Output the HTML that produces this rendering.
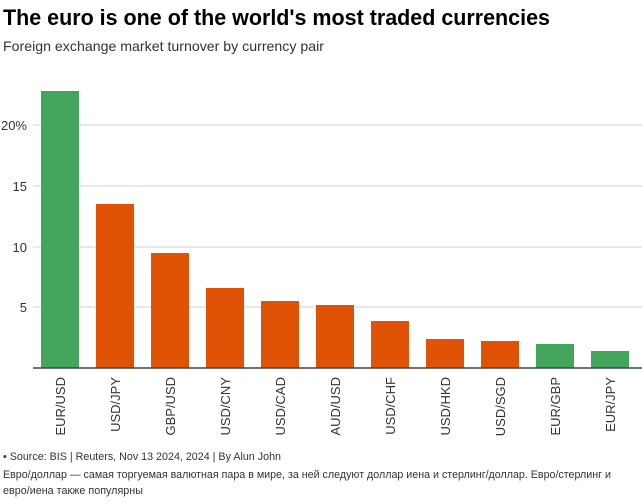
<!DOCTYPE html>
<html><head><meta charset="utf-8"><style>
html,body{margin:0;padding:0;background:#fff;width:642px;height:504px;overflow:hidden}
svg{display:block}
text{font-family:"Liberation Sans",Arial,sans-serif}
</style></head><body>
<svg width="642" height="504" viewBox="0 0 642 504" xmlns="http://www.w3.org/2000/svg">
<text x="3" y="25" font-size="22" font-weight="bold" fill="#000" textLength="547" lengthAdjust="spacingAndGlyphs">The euro is one of the world's most traded currencies</text>
<text x="3" y="51" font-size="14" fill="#333" textLength="321" lengthAdjust="spacingAndGlyphs">Foreign exchange market turnover by currency pair</text>
<g stroke="#e0e0e0" stroke-width="1.5">
<line x1="33" x2="642" y1="125" y2="125"/>
<line x1="33" x2="642" y1="186" y2="186"/>
<line x1="33" x2="642" y1="247" y2="247"/>
<line x1="33" x2="642" y1="307" y2="307"/>
</g>
<g font-size="13" fill="#333" text-anchor="end">
<text x="27" y="130">20%</text>
<text x="27" y="191">15</text>
<text x="27" y="252">10</text>
<text x="27" y="312">5</text>
</g>
<g>
<rect x="41" y="91" width="38" height="277" fill="#43a45c"/>
<rect x="96" y="204" width="38" height="164" fill="#e05206"/>
<rect x="151" y="253" width="38" height="115" fill="#e05206"/>
<rect x="206" y="288" width="38" height="80" fill="#e05206"/>
<rect x="261" y="301" width="38" height="67" fill="#e05206"/>
<rect x="316" y="305" width="38" height="63" fill="#e05206"/>
<rect x="371" y="321" width="38" height="47" fill="#e05206"/>
<rect x="426" y="339" width="38" height="29" fill="#e05206"/>
<rect x="481" y="341" width="38" height="27" fill="#e05206"/>
<rect x="536" y="344" width="38" height="24" fill="#43a45c"/>
<rect x="591" y="351" width="38" height="17" fill="#43a45c"/>
</g>
<line x1="33" x2="642" y1="368" y2="368" stroke="#444" stroke-width="1.5"/>
<g font-size="13" fill="#333" text-anchor="end">
<text transform="translate(65,377) rotate(-90)">EUR/USD</text>
<text transform="translate(120,377) rotate(-90)">USD/JPY</text>
<text transform="translate(175,377) rotate(-90)">GBP/USD</text>
<text transform="translate(230,377) rotate(-90)">USD/CNY</text>
<text transform="translate(285,377) rotate(-90)">USD/CAD</text>
<text transform="translate(340,377) rotate(-90)">AUD/USD</text>
<text transform="translate(395,377) rotate(-90)">USD/CHF</text>
<text transform="translate(450,377) rotate(-90)">USD/HKD</text>
<text transform="translate(505,377) rotate(-90)">USD/SGD</text>
<text transform="translate(560,377) rotate(-90)">EUR/GBP</text>
<text transform="translate(615,377) rotate(-90)">EUR/JPY</text>
</g>
<text x="3" y="460" font-size="11" fill="#333" textLength="278" lengthAdjust="spacingAndGlyphs">• Source: BIS | Reuters, Nov 13 2024, 2024 | By Alun John</text>
<text x="3" y="478" font-size="11" fill="#333" textLength="608" lengthAdjust="spacingAndGlyphs">Евро/доллар — самая торгуемая валютная пара в мире, за ней следуют доллар иена и стерлинг/доллар. Евро/стерлинг и</text>
<text x="3" y="494" font-size="11" fill="#333" textLength="140" lengthAdjust="spacingAndGlyphs">евро/иена также популярны</text>
</svg>
</body></html>
